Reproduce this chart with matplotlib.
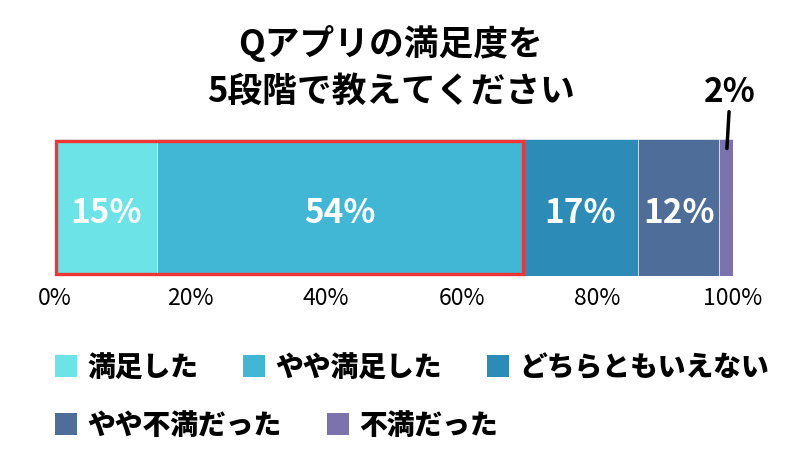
import matplotlib.pyplot as plt
from matplotlib.patches import Rectangle

plt.rcParams['font.family'] = ['Noto Sans CJK JP', 'DejaVu Sans']

# データ
categories = ['満足した', 'やや満足した', 'どちらともいえない', 'やや不満だった', '不満だった']
values = [15, 54, 17, 12, 2]
colors = ['#6BE3E7', '#41B6D5', '#2D8BB8', '#4F6D99', '#7B72AE']
tick_vals = [0, 20, 40, 60, 80, 100]
tick_labels = ['0%', '20%', '40%', '60%', '80%', '100%']
title = 'Qアプリの満足度を\n5段階で教えてください'

W, H = 800, 464
fig = plt.figure(figsize=(W / 100, H / 100), dpi=100)
ax = fig.add_axes([55 / W, 1 - 277 / H, 678 / W, 137 / H])

left = 0
for v, c in zip(values, colors):
    ax.barh(0, v, left=left, height=1.0, color=c, edgecolor='white', linewidth=0.4)
    if v >= 5:
        ax.text(left + v / 2, -0.035, f'{v}%', ha='center', va='center',
                color='white', fontsize=24, fontweight='bold')
    left += v

# 最後の小さい値はバーの上にラベル
last_x = sum(values) - values[-1] / 2
ax.annotate(f'{values[-1]}%', xy=(last_x + 0.1, 0.43), xytext=(last_x + 0.6, 0.85),
            ha='center', va='center', fontsize=24, fontweight='bold',
            annotation_clip=False,
            arrowprops=dict(arrowstyle='-', color='black', lw=2.5, shrinkA=1, shrinkB=0))

# 赤枠（満足＋やや満足）
sat = values[0] + values[1]
ax.add_patch(Rectangle((0.15, -0.485), sat - 0.1, 0.97, fill=False,
                       edgecolor='#F03535', linewidth=2.4, clip_on=False, zorder=5))

ax.set_xlim(0, 100)
ax.set_ylim(-0.5, 0.5)
ax.set_yticks([])
ax.set_xticks(tick_vals)
ax.set_xticklabels(tick_labels, fontsize=16.5)
ax.tick_params(axis='x', length=0, pad=7)
for s in ax.spines.values():
    s.set_visible(False)

fig.text(391 / W, 1 - 67 / H, title, ha='center', va='center',
         fontsize=25, fontweight='bold', linespacing=1.4)

# 凡例
legend_pos = [(55, 367), (243, 367), (487, 367), (55, 425), (327, 425)]
for (x, y), lab, c in zip(legend_pos, categories, colors):
    fig.patches.append(Rectangle((x / W, 1 - (y + 11) / H), 22 / W, 22 / H,
                                 transform=fig.transFigure, facecolor=c, edgecolor='none'))
    fig.text((x + 32) / W, 1 - (y + 1) / H, lab, ha='left', va='center',
             fontsize=20, fontweight='black')

fig.savefig('out.png', dpi=100)
